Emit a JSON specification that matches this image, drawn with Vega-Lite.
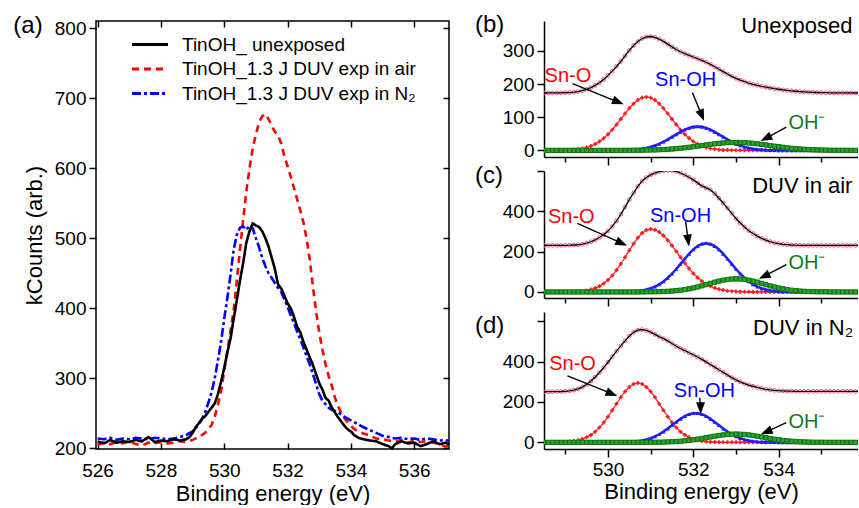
{
"$schema": "https://vega.github.io/schema/vega-lite/v6.json",
"padding": {"left": 12, "top": 12, "right": 0, "bottom": 0},
"background": "white",
"config": {
  "font": "Liberation Sans",
  "view": {"stroke": null},
  "axis": {"grid": false, "domainColor": "black", "tickColor": "black", "labelColor": "black", "titleColor": "black", "labelFontSize": 19, "titleFontSize": 22, "titleFontWeight": "normal", "domainWidth": 1.5, "tickWidth": 1.5, "labelFont": "Liberation Sans", "titleFont": "Liberation Sans", "labelFlush": false}
},
"datasets": {
"a": [
{"s":"a","x":526.0,"y":205},{"s":"a","x":526.2,"y":208},{"s":"a","x":526.4,"y":206},{"s":"a","x":526.6,"y":209},{"s":"a","x":526.8,"y":207},{"s":"a","x":527.0,"y":210},{"s":"a","x":527.2,"y":206},{"s":"a","x":527.4,"y":204},{"s":"a","x":527.6,"y":208},{"s":"a","x":527.8,"y":207},{"s":"a","x":528.0,"y":209},{"s":"a","x":528.2,"y":207},{"s":"a","x":528.4,"y":208},{"s":"a","x":528.6,"y":210},{"s":"a","x":528.8,"y":209},{"s":"a","x":529.0,"y":212},{"s":"a","x":529.2,"y":216},{"s":"a","x":529.4,"y":222},{"s":"a","x":529.6,"y":233},{"s":"a","x":529.7,"y":245},{"s":"a","x":529.8,"y":262},{"s":"a","x":529.9,"y":282},{"s":"a","x":530.0,"y":310},{"s":"a","x":530.1,"y":339},{"s":"a","x":530.2,"y":368},{"s":"a","x":530.3,"y":398},{"s":"a","x":530.4,"y":440},{"s":"a","x":530.5,"y":485},{"s":"a","x":530.6,"y":527},{"s":"a","x":530.7,"y":567},{"s":"a","x":530.8,"y":600},{"s":"a","x":530.9,"y":628},{"s":"a","x":531.0,"y":648},{"s":"a","x":531.1,"y":665},{"s":"a","x":531.2,"y":674},{"s":"a","x":531.3,"y":677},{"s":"a","x":531.4,"y":670},{"s":"a","x":531.5,"y":660},{"s":"a","x":531.6,"y":652},{"s":"a","x":531.7,"y":647},{"s":"a","x":531.8,"y":635},{"s":"a","x":531.9,"y":617},{"s":"a","x":532.0,"y":603},{"s":"a","x":532.1,"y":588},{"s":"a","x":532.2,"y":572},{"s":"a","x":532.3,"y":556},{"s":"a","x":532.4,"y":540},{"s":"a","x":532.5,"y":523},{"s":"a","x":532.6,"y":500},{"s":"a","x":532.7,"y":470},{"s":"a","x":532.8,"y":432},{"s":"a","x":532.9,"y":396},{"s":"a","x":533.0,"y":366},{"s":"a","x":533.1,"y":341},{"s":"a","x":533.2,"y":320},{"s":"a","x":533.3,"y":303},{"s":"a","x":533.4,"y":289},{"s":"a","x":533.5,"y":272},{"s":"a","x":533.6,"y":260},{"s":"a","x":533.7,"y":250},{"s":"a","x":533.8,"y":243},{"s":"a","x":533.9,"y":237},{"s":"a","x":534.0,"y":232},{"s":"a","x":534.1,"y":228},{"s":"a","x":534.2,"y":225},{"s":"a","x":534.4,"y":221},{"s":"a","x":534.6,"y":218},{"s":"a","x":534.8,"y":214},{"s":"a","x":535.0,"y":213},{"s":"a","x":535.2,"y":211},{"s":"a","x":535.4,"y":209},{"s":"a","x":535.6,"y":212},{"s":"a","x":535.8,"y":208},{"s":"a","x":536.0,"y":211},{"s":"a","x":536.2,"y":209},{"s":"a","x":536.4,"y":210},{"s":"a","x":536.6,"y":208},{"s":"a","x":536.8,"y":206},{"s":"a","x":537.0,"y":202},{"s":"a","x":537.1,"y":204},
{"s":"n","x":526.0,"y":214},{"s":"n","x":526.2,"y":213},{"s":"n","x":526.4,"y":215},{"s":"n","x":526.6,"y":212},{"s":"n","x":526.8,"y":214},{"s":"n","x":527.0,"y":213},{"s":"n","x":527.2,"y":215},{"s":"n","x":527.4,"y":214},{"s":"n","x":527.6,"y":213},{"s":"n","x":527.8,"y":215},{"s":"n","x":528.0,"y":214},{"s":"n","x":528.2,"y":213},{"s":"n","x":528.4,"y":214},{"s":"n","x":528.6,"y":216},{"s":"n","x":528.8,"y":219},{"s":"n","x":529.0,"y":224},{"s":"n","x":529.1,"y":229},{"s":"n","x":529.2,"y":235},{"s":"n","x":529.3,"y":242},{"s":"n","x":529.4,"y":252},{"s":"n","x":529.5,"y":265},{"s":"n","x":529.6,"y":280},{"s":"n","x":529.7,"y":300},{"s":"n","x":529.8,"y":325},{"s":"n","x":529.9,"y":352},{"s":"n","x":530.0,"y":385},{"s":"n","x":530.1,"y":415},{"s":"n","x":530.2,"y":448},{"s":"n","x":530.3,"y":484},{"s":"n","x":530.4,"y":505},{"s":"n","x":530.5,"y":515},{"s":"n","x":530.6,"y":517},{"s":"n","x":530.7,"y":512},{"s":"n","x":530.8,"y":518},{"s":"n","x":530.9,"y":514},{"s":"n","x":531.0,"y":500},{"s":"n","x":531.1,"y":487},{"s":"n","x":531.2,"y":472},{"s":"n","x":531.3,"y":460},{"s":"n","x":531.4,"y":450},{"s":"n","x":531.5,"y":443},{"s":"n","x":531.6,"y":436},{"s":"n","x":531.7,"y":429},{"s":"n","x":531.8,"y":423},{"s":"n","x":531.9,"y":413},{"s":"n","x":532.0,"y":402},{"s":"n","x":532.1,"y":390},{"s":"n","x":532.2,"y":379},{"s":"n","x":532.3,"y":367},{"s":"n","x":532.4,"y":356},{"s":"n","x":532.5,"y":344},{"s":"n","x":532.6,"y":332},{"s":"n","x":532.7,"y":320},{"s":"n","x":532.8,"y":306},{"s":"n","x":532.9,"y":292},{"s":"n","x":533.0,"y":278},{"s":"n","x":533.1,"y":268},{"s":"n","x":533.2,"y":263},{"s":"n","x":533.3,"y":258},{"s":"n","x":533.4,"y":255},{"s":"n","x":533.6,"y":251},{"s":"n","x":533.8,"y":245},{"s":"n","x":534.0,"y":240},{"s":"n","x":534.2,"y":235},{"s":"n","x":534.4,"y":230},{"s":"n","x":534.6,"y":226},{"s":"n","x":534.8,"y":222},{"s":"n","x":535.0,"y":218},{"s":"n","x":535.2,"y":216},{"s":"n","x":535.4,"y":214},{"s":"n","x":535.6,"y":215},{"s":"n","x":535.8,"y":213},{"s":"n","x":536.0,"y":214},{"s":"n","x":536.2,"y":212},{"s":"n","x":536.4,"y":214},{"s":"n","x":536.6,"y":213},{"s":"n","x":536.8,"y":211},{"s":"n","x":537.0,"y":212},{"s":"n","x":537.1,"y":210},
{"s":"u","x":526.0,"y":210},{"s":"u","x":526.2,"y":207},{"s":"u","x":526.4,"y":212},{"s":"u","x":526.6,"y":208},{"s":"u","x":526.8,"y":210},{"s":"u","x":527.0,"y":209},{"s":"u","x":527.2,"y":212},{"s":"u","x":527.4,"y":210},{"s":"u","x":527.6,"y":216},{"s":"u","x":527.7,"y":213},{"s":"u","x":527.8,"y":209},{"s":"u","x":528.0,"y":211},{"s":"u","x":528.2,"y":210},{"s":"u","x":528.4,"y":213},{"s":"u","x":528.6,"y":211},{"s":"u","x":528.8,"y":213},{"s":"u","x":528.9,"y":216},{"s":"u","x":529.0,"y":222},{"s":"u","x":529.1,"y":230},{"s":"u","x":529.2,"y":236},{"s":"u","x":529.3,"y":242},{"s":"u","x":529.4,"y":246},{"s":"u","x":529.5,"y":252},{"s":"u","x":529.6,"y":258},{"s":"u","x":529.7,"y":264},{"s":"u","x":529.8,"y":277},{"s":"u","x":529.9,"y":295},{"s":"u","x":530.0,"y":315},{"s":"u","x":530.1,"y":337},{"s":"u","x":530.2,"y":357},{"s":"u","x":530.3,"y":385},{"s":"u","x":530.4,"y":412},{"s":"u","x":530.5,"y":440},{"s":"u","x":530.6,"y":465},{"s":"u","x":530.7,"y":494},{"s":"u","x":530.8,"y":510},{"s":"u","x":530.9,"y":521},{"s":"u","x":531.0,"y":518},{"s":"u","x":531.1,"y":516},{"s":"u","x":531.2,"y":510},{"s":"u","x":531.3,"y":500},{"s":"u","x":531.4,"y":488},{"s":"u","x":531.5,"y":472},{"s":"u","x":531.6,"y":456},{"s":"u","x":531.7,"y":434},{"s":"u","x":531.8,"y":428},{"s":"u","x":531.9,"y":418},{"s":"u","x":532.0,"y":407},{"s":"u","x":532.1,"y":400},{"s":"u","x":532.2,"y":388},{"s":"u","x":532.3,"y":374},{"s":"u","x":532.4,"y":366},{"s":"u","x":532.5,"y":352},{"s":"u","x":532.6,"y":341},{"s":"u","x":532.7,"y":330},{"s":"u","x":532.8,"y":319},{"s":"u","x":532.9,"y":306},{"s":"u","x":533.0,"y":293},{"s":"u","x":533.1,"y":284},{"s":"u","x":533.2,"y":272},{"s":"u","x":533.3,"y":268},{"s":"u","x":533.4,"y":258},{"s":"u","x":533.5,"y":251},{"s":"u","x":533.6,"y":244},{"s":"u","x":533.7,"y":238},{"s":"u","x":533.8,"y":232},{"s":"u","x":533.9,"y":227},{"s":"u","x":534.0,"y":224},{"s":"u","x":534.1,"y":219},{"s":"u","x":534.2,"y":216},{"s":"u","x":534.3,"y":214},{"s":"u","x":534.4,"y":213},{"s":"u","x":534.6,"y":211},{"s":"u","x":534.8,"y":210},{"s":"u","x":535.0,"y":206},{"s":"u","x":535.2,"y":203},{"s":"u","x":535.3,"y":200},{"s":"u","x":535.4,"y":206},{"s":"u","x":535.6,"y":210},{"s":"u","x":535.8,"y":207},{"s":"u","x":536.0,"y":208},{"s":"u","x":536.2,"y":203},{"s":"u","x":536.4,"y":206},{"s":"u","x":536.6,"y":210},{"s":"u","x":536.8,"y":206},{"s":"u","x":537.0,"y":208},{"s":"u","x":537.1,"y":205}
],
"bO": [{"x":528.5,"y":0},{"x":528.6,"y":0.1},{"x":528.7,"y":0.1},{"x":528.8,"y":0.2},{"x":528.9,"y":0.4},{"x":529.0,"y":0.8},{"x":529.1,"y":1.3},{"x":529.2,"y":2.2},{"x":529.3,"y":3.6},{"x":529.4,"y":5.7},{"x":529.5,"y":8.7},{"x":529.6,"y":13},{"x":529.7,"y":18.9},{"x":529.8,"y":26.6},{"x":529.9,"y":36.5},{"x":530.0,"y":48.3},{"x":530.1,"y":62.2},{"x":530.2,"y":77.7},{"x":530.3,"y":94.3},{"x":530.4,"y":111},{"x":530.5,"y":126.9},{"x":530.6,"y":140.9},{"x":530.7,"y":151.7},{"x":530.8,"y":158.6},{"x":530.9,"y":161},{"x":531.0,"y":158.6},{"x":531.1,"y":151.7},{"x":531.2,"y":140.9},{"x":531.3,"y":126.9},{"x":531.4,"y":111},{"x":531.5,"y":94.3},{"x":531.6,"y":77.7},{"x":531.7,"y":62.2},{"x":531.8,"y":48.3},{"x":531.9,"y":36.5},{"x":532.0,"y":26.6},{"x":532.1,"y":18.9},{"x":532.2,"y":13},{"x":532.3,"y":8.7},{"x":532.4,"y":5.7},{"x":532.5,"y":3.6},{"x":532.6,"y":2.2},{"x":532.7,"y":1.3},{"x":532.8,"y":0.8},{"x":532.9,"y":0.4},{"x":533.0,"y":0.2},{"x":533.1,"y":0.1},{"x":533.2,"y":0.1},{"x":533.3,"y":0},{"x":533.4,"y":0},{"x":533.5,"y":0},{"x":533.6,"y":0},{"x":533.7,"y":0},{"x":533.8,"y":0},{"x":533.9,"y":0},{"x":534.0,"y":0},{"x":534.1,"y":0},{"x":534.2,"y":0},{"x":534.3,"y":0},{"x":534.4,"y":0},{"x":534.5,"y":0},{"x":534.6,"y":0},{"x":534.7,"y":0},{"x":534.8,"y":0},{"x":534.9,"y":0},{"x":535.0,"y":0},{"x":535.1,"y":0},{"x":535.2,"y":0},{"x":535.3,"y":0},{"x":535.4,"y":0},{"x":535.5,"y":0},{"x":535.6,"y":0},{"x":535.7,"y":0},{"x":535.8,"y":0},{"x":535.9,"y":0}],
"bH": [{"x":528.5,"y":0},{"x":528.6,"y":0},{"x":528.7,"y":0},{"x":528.8,"y":0},{"x":528.9,"y":0},{"x":529.0,"y":0},{"x":529.1,"y":0},{"x":529.2,"y":0},{"x":529.3,"y":0},{"x":529.4,"y":0},{"x":529.5,"y":0},{"x":529.6,"y":0},{"x":529.7,"y":0},{"x":529.8,"y":0},{"x":529.9,"y":0},{"x":530.0,"y":0},{"x":530.1,"y":0.1},{"x":530.2,"y":0.2},{"x":530.3,"y":0.4},{"x":530.4,"y":0.7},{"x":530.5,"y":1.2},{"x":530.6,"y":2},{"x":530.7,"y":3.2},{"x":530.8,"y":4.9},{"x":530.9,"y":7.3},{"x":531.0,"y":10.5},{"x":531.1,"y":14.6},{"x":531.2,"y":19.8},{"x":531.3,"y":26},{"x":531.4,"y":33},{"x":531.5,"y":40.6},{"x":531.6,"y":48.3},{"x":531.7,"y":55.8},{"x":531.8,"y":62.4},{"x":531.9,"y":67.5},{"x":532.0,"y":70.9},{"x":532.1,"y":72},{"x":532.2,"y":70.9},{"x":532.3,"y":67.5},{"x":532.4,"y":62.4},{"x":532.5,"y":55.8},{"x":532.6,"y":48.3},{"x":532.7,"y":40.6},{"x":532.8,"y":33},{"x":532.9,"y":26},{"x":533.0,"y":19.8},{"x":533.1,"y":14.6},{"x":533.2,"y":10.5},{"x":533.3,"y":7.3},{"x":533.4,"y":4.9},{"x":533.5,"y":3.2},{"x":533.6,"y":2},{"x":533.7,"y":1.2},{"x":533.8,"y":0.7},{"x":533.9,"y":0.4},{"x":534.0,"y":0.2},{"x":534.1,"y":0.1},{"x":534.2,"y":0},{"x":534.3,"y":0},{"x":534.4,"y":0},{"x":534.5,"y":0},{"x":534.6,"y":0},{"x":534.7,"y":0},{"x":534.8,"y":0},{"x":534.9,"y":0},{"x":535.0,"y":0},{"x":535.1,"y":0},{"x":535.2,"y":0},{"x":535.3,"y":0},{"x":535.4,"y":0},{"x":535.5,"y":0},{"x":535.6,"y":0},{"x":535.7,"y":0},{"x":535.8,"y":0},{"x":535.9,"y":0}],
"bM": [{"x":528.5,"y":0},{"x":528.6,"y":0},{"x":528.7,"y":0},{"x":528.8,"y":0},{"x":528.9,"y":0},{"x":529.0,"y":0},{"x":529.1,"y":0},{"x":529.2,"y":0},{"x":529.3,"y":0},{"x":529.4,"y":0},{"x":529.5,"y":0},{"x":529.6,"y":0},{"x":529.7,"y":0},{"x":529.8,"y":0},{"x":529.9,"y":0},{"x":530.0,"y":0},{"x":530.1,"y":0},{"x":530.2,"y":0},{"x":530.3,"y":0.1},{"x":530.4,"y":0.1},{"x":530.5,"y":0.2},{"x":530.6,"y":0.3},{"x":530.7,"y":0.4},{"x":530.8,"y":0.5},{"x":530.9,"y":0.8},{"x":531.0,"y":1.1},{"x":531.1,"y":1.4},{"x":531.2,"y":1.9},{"x":531.3,"y":2.5},{"x":531.4,"y":3.2},{"x":531.5,"y":4.1},{"x":531.6,"y":5.2},{"x":531.7,"y":6.4},{"x":531.8,"y":7.8},{"x":531.9,"y":9.3},{"x":532.0,"y":11},{"x":532.1,"y":12.7},{"x":532.2,"y":14.6},{"x":532.3,"y":16.4},{"x":532.4,"y":18.1},{"x":532.5,"y":19.8},{"x":532.6,"y":21.2},{"x":532.7,"y":22.4},{"x":532.8,"y":23.3},{"x":532.9,"y":23.8},{"x":533.0,"y":24},{"x":533.1,"y":23.8},{"x":533.2,"y":23.3},{"x":533.3,"y":22.4},{"x":533.4,"y":21.2},{"x":533.5,"y":19.8},{"x":533.6,"y":18.1},{"x":533.7,"y":16.4},{"x":533.8,"y":14.6},{"x":533.9,"y":12.7},{"x":534.0,"y":11},{"x":534.1,"y":9.3},{"x":534.2,"y":7.8},{"x":534.3,"y":6.4},{"x":534.4,"y":5.2},{"x":534.5,"y":4.1},{"x":534.6,"y":3.2},{"x":534.7,"y":2.5},{"x":534.8,"y":1.9},{"x":534.9,"y":1.4},{"x":535.0,"y":1.1},{"x":535.1,"y":0.8},{"x":535.2,"y":0.5},{"x":535.3,"y":0.4},{"x":535.4,"y":0.3},{"x":535.5,"y":0.2},{"x":535.6,"y":0.1},{"x":535.7,"y":0.1},{"x":535.8,"y":0},{"x":535.9,"y":0}],
"bE": [{"x":528.5,"y":173},{"x":528.6,"y":173.1},{"x":528.7,"y":173.1},{"x":528.8,"y":173.2},{"x":528.9,"y":173.4},{"x":529.0,"y":173.8},{"x":529.1,"y":174.4},{"x":529.2,"y":175.5},{"x":529.3,"y":177.3},{"x":529.4,"y":180},{"x":529.5,"y":184},{"x":529.6,"y":189},{"x":529.7,"y":196},{"x":529.8,"y":204},{"x":529.9,"y":214},{"x":530.0,"y":226},{"x":530.1,"y":239},{"x":530.2,"y":253},{"x":530.3,"y":268},{"x":530.4,"y":284.8},{"x":530.5,"y":301.3},{"x":530.6,"y":316.2},{"x":530.7,"y":328.3},{"x":530.8,"y":337},{"x":530.9,"y":342.1},{"x":531.0,"y":343.2},{"x":531.1,"y":340.7},{"x":531.2,"y":335.6},{"x":531.3,"y":328.4},{"x":531.4,"y":320.2},{"x":531.5,"y":312},{"x":531.6,"y":304.2},{"x":531.7,"y":297.4},{"x":531.8,"y":291.5},{"x":531.9,"y":286.3},{"x":532.0,"y":281.5},{"x":532.1,"y":276.6},{"x":532.2,"y":271.5},{"x":532.3,"y":265.6},{"x":532.4,"y":259.2},{"x":532.5,"y":252.2},{"x":532.6,"y":244.7},{"x":532.7,"y":237.3},{"x":532.8,"y":230.1},{"x":532.9,"y":223.2},{"x":533.0,"y":217},{"x":533.1,"y":211.5},{"x":533.2,"y":206.9},{"x":533.3,"y":202.7},{"x":533.4,"y":199.1},{"x":533.5,"y":196},{"x":533.6,"y":193.1},{"x":533.7,"y":190.6},{"x":533.8,"y":188.3},{"x":533.9,"y":186.1},{"x":534.0,"y":184.2},{"x":534.1,"y":182.4},{"x":534.2,"y":180.8},{"x":534.3,"y":179.4},{"x":534.4,"y":178.2},{"x":534.5,"y":177.1},{"x":534.6,"y":176.2},{"x":534.7,"y":175.5},{"x":534.8,"y":174.9},{"x":534.9,"y":174.4},{"x":535.0,"y":174.1},{"x":535.1,"y":173.8},{"x":535.2,"y":173.5},{"x":535.3,"y":173.4},{"x":535.4,"y":173.3},{"x":535.5,"y":173.2},{"x":535.6,"y":173.1},{"x":535.7,"y":173.1},{"x":535.8,"y":173},{"x":535.9,"y":173}],
"cO": [{"x":528.5,"y":0},{"x":528.6,"y":0},{"x":528.7,"y":0},{"x":528.8,"y":0.1},{"x":528.9,"y":0.2},{"x":529.0,"y":0.4},{"x":529.1,"y":0.8},{"x":529.2,"y":1.5},{"x":529.3,"y":2.6},{"x":529.4,"y":4.5},{"x":529.5,"y":7.6},{"x":529.6,"y":12.2},{"x":529.7,"y":19.1},{"x":529.8,"y":28.9},{"x":529.9,"y":42.2},{"x":530.0,"y":59.7},{"x":530.1,"y":81.8},{"x":530.2,"y":108.3},{"x":530.3,"y":138.8},{"x":530.4,"y":172.1},{"x":530.5,"y":206.4},{"x":530.6,"y":239.6},{"x":530.7,"y":268.9},{"x":530.8,"y":292},{"x":530.9,"y":306.9},{"x":531.0,"y":312},{"x":531.1,"y":308.3},{"x":531.2,"y":297},{"x":531.3,"y":279.6},{"x":531.4,"y":256.8},{"x":531.5,"y":229.9},{"x":531.6,"y":200.9},{"x":531.7,"y":171.6},{"x":531.8,"y":142.9},{"x":531.9,"y":116.1},{"x":532.0,"y":92},{"x":532.1,"y":71.1},{"x":532.2,"y":53.7},{"x":532.3,"y":39.6},{"x":532.4,"y":28.5},{"x":532.5,"y":20},{"x":532.6,"y":13.7},{"x":532.7,"y":9.2},{"x":532.8,"y":6},{"x":532.9,"y":3.8},{"x":533.0,"y":2.4},{"x":533.1,"y":1.4},{"x":533.2,"y":0.8},{"x":533.3,"y":0.5},{"x":533.4,"y":0.3},{"x":533.5,"y":0.1},{"x":533.6,"y":0},{"x":533.7,"y":0},{"x":533.8,"y":0},{"x":533.9,"y":0},{"x":534.0,"y":0},{"x":534.1,"y":0},{"x":534.2,"y":0},{"x":534.3,"y":0},{"x":534.4,"y":0},{"x":534.5,"y":0},{"x":534.6,"y":0},{"x":534.7,"y":0},{"x":534.8,"y":0},{"x":534.9,"y":0},{"x":535.0,"y":0},{"x":535.1,"y":0},{"x":535.2,"y":0},{"x":535.3,"y":0},{"x":535.4,"y":0},{"x":535.5,"y":0},{"x":535.6,"y":0},{"x":535.7,"y":0},{"x":535.8,"y":0},{"x":535.9,"y":0}],
"cH": [{"x":528.5,"y":0},{"x":528.6,"y":0},{"x":528.7,"y":0},{"x":528.8,"y":0},{"x":528.9,"y":0},{"x":529.0,"y":0},{"x":529.1,"y":0},{"x":529.2,"y":0},{"x":529.3,"y":0},{"x":529.4,"y":0},{"x":529.5,"y":0},{"x":529.6,"y":0},{"x":529.7,"y":0},{"x":529.8,"y":0},{"x":529.9,"y":0},{"x":530.0,"y":0},{"x":530.1,"y":0.1},{"x":530.2,"y":0.3},{"x":530.3,"y":0.5},{"x":530.4,"y":0.9},{"x":530.5,"y":1.6},{"x":530.6,"y":2.8},{"x":530.7,"y":4.7},{"x":530.8,"y":7.6},{"x":530.9,"y":11.9},{"x":531.0,"y":18},{"x":531.1,"y":26.4},{"x":531.2,"y":37.6},{"x":531.3,"y":51.9},{"x":531.4,"y":69.6},{"x":531.5,"y":90.4},{"x":531.6,"y":113.8},{"x":531.7,"y":139.1},{"x":531.8,"y":164.7},{"x":531.9,"y":189.2},{"x":532.0,"y":210.7},{"x":532.1,"y":227.6},{"x":532.2,"y":238.3},{"x":532.3,"y":242},{"x":532.4,"y":238.3},{"x":532.5,"y":227.6},{"x":532.6,"y":210.7},{"x":532.7,"y":189.2},{"x":532.8,"y":164.7},{"x":532.9,"y":139.1},{"x":533.0,"y":113.8},{"x":533.1,"y":90.4},{"x":533.2,"y":69.6},{"x":533.3,"y":51.9},{"x":533.4,"y":37.6},{"x":533.5,"y":26.4},{"x":533.6,"y":18},{"x":533.7,"y":11.9},{"x":533.8,"y":7.6},{"x":533.9,"y":4.7},{"x":534.0,"y":2.8},{"x":534.1,"y":1.6},{"x":534.2,"y":0.9},{"x":534.3,"y":0.5},{"x":534.4,"y":0.3},{"x":534.5,"y":0.1},{"x":534.6,"y":0},{"x":534.7,"y":0},{"x":534.8,"y":0},{"x":534.9,"y":0},{"x":535.0,"y":0},{"x":535.1,"y":0},{"x":535.2,"y":0},{"x":535.3,"y":0},{"x":535.4,"y":0},{"x":535.5,"y":0},{"x":535.6,"y":0},{"x":535.7,"y":0},{"x":535.8,"y":0},{"x":535.9,"y":0}],
"cM": [{"x":528.5,"y":0},{"x":528.6,"y":0},{"x":528.7,"y":0},{"x":528.8,"y":0},{"x":528.9,"y":0},{"x":529.0,"y":0},{"x":529.1,"y":0},{"x":529.2,"y":0},{"x":529.3,"y":0},{"x":529.4,"y":0},{"x":529.5,"y":0},{"x":529.6,"y":0},{"x":529.7,"y":0},{"x":529.8,"y":0},{"x":529.9,"y":0},{"x":530.0,"y":0},{"x":530.1,"y":0},{"x":530.2,"y":0},{"x":530.3,"y":0},{"x":530.4,"y":0},{"x":530.5,"y":0},{"x":530.6,"y":0.1},{"x":530.7,"y":0.1},{"x":530.8,"y":0.2},{"x":530.9,"y":0.4},{"x":531.0,"y":0.6},{"x":531.1,"y":0.9},{"x":531.2,"y":1.4},{"x":531.3,"y":2.1},{"x":531.4,"y":3.1},{"x":531.5,"y":4.5},{"x":531.6,"y":6.4},{"x":531.7,"y":8.8},{"x":531.8,"y":11.8},{"x":531.9,"y":15.5},{"x":532.0,"y":19.9},{"x":532.1,"y":24.9},{"x":532.2,"y":30.5},{"x":532.3,"y":36.4},{"x":532.4,"y":42.4},{"x":532.5,"y":48.4},{"x":532.6,"y":53.8},{"x":532.7,"y":58.4},{"x":532.8,"y":62},{"x":532.9,"y":64.2},{"x":533.0,"y":65},{"x":533.1,"y":64.2},{"x":533.2,"y":62},{"x":533.3,"y":58.4},{"x":533.4,"y":53.8},{"x":533.5,"y":48.4},{"x":533.6,"y":42.4},{"x":533.7,"y":36.4},{"x":533.8,"y":30.5},{"x":533.9,"y":24.9},{"x":534.0,"y":19.9},{"x":534.1,"y":15.5},{"x":534.2,"y":11.8},{"x":534.3,"y":8.8},{"x":534.4,"y":6.4},{"x":534.5,"y":4.5},{"x":534.6,"y":3.1},{"x":534.7,"y":2.1},{"x":534.8,"y":1.4},{"x":534.9,"y":0.9},{"x":535.0,"y":0.6},{"x":535.1,"y":0.4},{"x":535.2,"y":0.2},{"x":535.3,"y":0.1},{"x":535.4,"y":0.1},{"x":535.5,"y":0},{"x":535.6,"y":0},{"x":535.7,"y":0},{"x":535.8,"y":0},{"x":535.9,"y":0}],
"cE": [{"x":528.5,"y":231},{"x":528.6,"y":231},{"x":528.7,"y":231},{"x":528.8,"y":231},{"x":528.9,"y":231},{"x":529.0,"y":231.5},{"x":529.1,"y":232},{"x":529.2,"y":233},{"x":529.3,"y":234},{"x":529.4,"y":237},{"x":529.5,"y":242},{"x":529.6,"y":249},{"x":529.7,"y":258},{"x":529.8,"y":270},{"x":529.9,"y":285},{"x":530.0,"y":302},{"x":530.1,"y":325},{"x":530.2,"y":352},{"x":530.3,"y":385},{"x":530.4,"y":421},{"x":530.5,"y":458},{"x":530.6,"y":492},{"x":530.7,"y":524},{"x":530.8,"y":550},{"x":530.9,"y":568},{"x":531.0,"y":581},{"x":531.1,"y":590},{"x":531.2,"y":597},{"x":531.3,"y":601},{"x":531.4,"y":603},{"x":531.5,"y":602},{"x":531.6,"y":598},{"x":531.7,"y":590},{"x":531.8,"y":580},{"x":531.9,"y":569},{"x":532.0,"y":556},{"x":532.1,"y":541},{"x":532.2,"y":526},{"x":532.3,"y":516},{"x":532.4,"y":507},{"x":532.5,"y":488},{"x":532.6,"y":465},{"x":532.7,"y":441},{"x":532.8,"y":416},{"x":532.9,"y":390},{"x":533.0,"y":364},{"x":533.1,"y":342},{"x":533.2,"y":322},{"x":533.3,"y":304},{"x":533.4,"y":290},{"x":533.5,"y":277},{"x":533.6,"y":266},{"x":533.7,"y":257},{"x":533.8,"y":250},{"x":533.9,"y":244},{"x":534.0,"y":240},{"x":534.1,"y":236.5},{"x":534.2,"y":234.5},{"x":534.3,"y":233},{"x":534.4,"y":232},{"x":534.5,"y":231.5},{"x":534.6,"y":231},{"x":534.7,"y":231},{"x":534.8,"y":231},{"x":534.9,"y":231},{"x":535.0,"y":231},{"x":535.1,"y":231},{"x":535.2,"y":231},{"x":535.3,"y":231},{"x":535.4,"y":231},{"x":535.5,"y":231},{"x":535.6,"y":231},{"x":535.7,"y":231},{"x":535.8,"y":231},{"x":535.9,"y":231}],
"dO": [{"x":528.5,"y":0},{"x":528.6,"y":0.1},{"x":528.7,"y":0.3},{"x":528.8,"y":0.6},{"x":528.9,"y":1.1},{"x":529.0,"y":2.1},{"x":529.1,"y":3.6},{"x":529.2,"y":6.2},{"x":529.3,"y":10.2},{"x":529.4,"y":16.2},{"x":529.5,"y":24.9},{"x":529.6,"y":36.9},{"x":529.7,"y":52.9},{"x":529.8,"y":73.3},{"x":529.9,"y":98.1},{"x":530.0,"y":126.9},{"x":530.1,"y":158.6},{"x":530.2,"y":191.5},{"x":530.3,"y":223.4},{"x":530.4,"y":252},{"x":530.5,"y":274.5},{"x":530.6,"y":289},{"x":530.7,"y":294},{"x":530.8,"y":289},{"x":530.9,"y":274.5},{"x":531.0,"y":252},{"x":531.1,"y":223.4},{"x":531.2,"y":191.5},{"x":531.3,"y":158.6},{"x":531.4,"y":126.9},{"x":531.5,"y":98.1},{"x":531.6,"y":73.3},{"x":531.7,"y":52.9},{"x":531.8,"y":36.9},{"x":531.9,"y":24.9},{"x":532.0,"y":16.2},{"x":532.1,"y":10.2},{"x":532.2,"y":6.2},{"x":532.3,"y":3.6},{"x":532.4,"y":2.1},{"x":532.5,"y":1.1},{"x":532.6,"y":0.6},{"x":532.7,"y":0.3},{"x":532.8,"y":0.1},{"x":532.9,"y":0},{"x":533.0,"y":0},{"x":533.1,"y":0},{"x":533.2,"y":0},{"x":533.3,"y":0},{"x":533.4,"y":0},{"x":533.5,"y":0},{"x":533.6,"y":0},{"x":533.7,"y":0},{"x":533.8,"y":0},{"x":533.9,"y":0},{"x":534.0,"y":0},{"x":534.1,"y":0},{"x":534.2,"y":0},{"x":534.3,"y":0},{"x":534.4,"y":0},{"x":534.5,"y":0},{"x":534.6,"y":0},{"x":534.7,"y":0},{"x":534.8,"y":0},{"x":534.9,"y":0},{"x":535.0,"y":0},{"x":535.1,"y":0},{"x":535.2,"y":0},{"x":535.3,"y":0},{"x":535.4,"y":0},{"x":535.5,"y":0},{"x":535.6,"y":0},{"x":535.7,"y":0},{"x":535.8,"y":0},{"x":535.9,"y":0}],
"dH": [{"x":528.5,"y":0},{"x":528.6,"y":0},{"x":528.7,"y":0},{"x":528.8,"y":0},{"x":528.9,"y":0},{"x":529.0,"y":0},{"x":529.1,"y":0},{"x":529.2,"y":0},{"x":529.3,"y":0},{"x":529.4,"y":0},{"x":529.5,"y":0},{"x":529.6,"y":0},{"x":529.7,"y":0},{"x":529.8,"y":0},{"x":529.9,"y":0},{"x":530.0,"y":0.1},{"x":530.1,"y":0.2},{"x":530.2,"y":0.3},{"x":530.3,"y":0.6},{"x":530.4,"y":1.1},{"x":530.5,"y":2},{"x":530.6,"y":3.4},{"x":530.7,"y":5.7},{"x":530.8,"y":9},{"x":530.9,"y":13.8},{"x":531.0,"y":20.4},{"x":531.1,"y":29.1},{"x":531.2,"y":40.1},{"x":531.3,"y":53.3},{"x":531.4,"y":68.4},{"x":531.5,"y":84.6},{"x":531.6,"y":101.1},{"x":531.7,"y":116.6},{"x":531.8,"y":129.7},{"x":531.9,"y":139.3},{"x":532.0,"y":144.4},{"x":532.1,"y":144.4},{"x":532.2,"y":139.3},{"x":532.3,"y":129.7},{"x":532.4,"y":116.6},{"x":532.5,"y":101.1},{"x":532.6,"y":84.6},{"x":532.7,"y":68.4},{"x":532.8,"y":53.3},{"x":532.9,"y":40.1},{"x":533.0,"y":29.1},{"x":533.1,"y":20.4},{"x":533.2,"y":13.8},{"x":533.3,"y":9},{"x":533.4,"y":5.7},{"x":533.5,"y":3.4},{"x":533.6,"y":2},{"x":533.7,"y":1.1},{"x":533.8,"y":0.6},{"x":533.9,"y":0.3},{"x":534.0,"y":0.2},{"x":534.1,"y":0.1},{"x":534.2,"y":0},{"x":534.3,"y":0},{"x":534.4,"y":0},{"x":534.5,"y":0},{"x":534.6,"y":0},{"x":534.7,"y":0},{"x":534.8,"y":0},{"x":534.9,"y":0},{"x":535.0,"y":0},{"x":535.1,"y":0},{"x":535.2,"y":0},{"x":535.3,"y":0},{"x":535.4,"y":0},{"x":535.5,"y":0},{"x":535.6,"y":0},{"x":535.7,"y":0},{"x":535.8,"y":0},{"x":535.9,"y":0}],
"dM": [{"x":528.5,"y":0},{"x":528.6,"y":0},{"x":528.7,"y":0},{"x":528.8,"y":0},{"x":528.9,"y":0},{"x":529.0,"y":0},{"x":529.1,"y":0},{"x":529.2,"y":0},{"x":529.3,"y":0},{"x":529.4,"y":0},{"x":529.5,"y":0},{"x":529.6,"y":0},{"x":529.7,"y":0},{"x":529.8,"y":0},{"x":529.9,"y":0},{"x":530.0,"y":0},{"x":530.1,"y":0},{"x":530.2,"y":0},{"x":530.3,"y":0},{"x":530.4,"y":0},{"x":530.5,"y":0},{"x":530.6,"y":0},{"x":530.7,"y":0.1},{"x":530.8,"y":0.1},{"x":530.9,"y":0.2},{"x":531.0,"y":0.4},{"x":531.1,"y":0.6},{"x":531.2,"y":0.9},{"x":531.3,"y":1.3},{"x":531.4,"y":2},{"x":531.5,"y":2.9},{"x":531.6,"y":4},{"x":531.7,"y":5.5},{"x":531.8,"y":7.5},{"x":531.9,"y":9.8},{"x":532.0,"y":12.6},{"x":532.1,"y":15.7},{"x":532.2,"y":19.2},{"x":532.3,"y":23},{"x":532.4,"y":26.8},{"x":532.5,"y":30.5},{"x":532.6,"y":33.9},{"x":532.7,"y":36.9},{"x":532.8,"y":39.1},{"x":532.9,"y":40.5},{"x":533.0,"y":41},{"x":533.1,"y":40.5},{"x":533.2,"y":39.1},{"x":533.3,"y":36.9},{"x":533.4,"y":33.9},{"x":533.5,"y":30.5},{"x":533.6,"y":26.8},{"x":533.7,"y":23},{"x":533.8,"y":19.2},{"x":533.9,"y":15.7},{"x":534.0,"y":12.6},{"x":534.1,"y":9.8},{"x":534.2,"y":7.5},{"x":534.3,"y":5.5},{"x":534.4,"y":4},{"x":534.5,"y":2.9},{"x":534.6,"y":2},{"x":534.7,"y":1.3},{"x":534.8,"y":0.9},{"x":534.9,"y":0.6},{"x":535.0,"y":0.4},{"x":535.1,"y":0.2},{"x":535.2,"y":0.1},{"x":535.3,"y":0.1},{"x":535.4,"y":0},{"x":535.5,"y":0},{"x":535.6,"y":0},{"x":535.7,"y":0},{"x":535.8,"y":0},{"x":535.9,"y":0}],
"dE": [{"x":528.5,"y":251},{"x":528.6,"y":251},{"x":528.7,"y":251},{"x":528.8,"y":251.5},{"x":528.9,"y":252},{"x":529.0,"y":253},{"x":529.1,"y":255},{"x":529.2,"y":259},{"x":529.3,"y":265},{"x":529.4,"y":274},{"x":529.5,"y":287},{"x":529.6,"y":304},{"x":529.7,"y":324},{"x":529.8,"y":346},{"x":529.9,"y":371},{"x":530.0,"y":397},{"x":530.1,"y":425},{"x":530.2,"y":452},{"x":530.3,"y":478},{"x":530.4,"y":503},{"x":530.5,"y":527},{"x":530.6,"y":545},{"x":530.7,"y":556},{"x":530.8,"y":559},{"x":530.9,"y":555},{"x":531.0,"y":546},{"x":531.1,"y":535},{"x":531.2,"y":524},{"x":531.3,"y":514},{"x":531.4,"y":503},{"x":531.5,"y":490},{"x":531.6,"y":476},{"x":531.7,"y":465},{"x":531.8,"y":455},{"x":531.9,"y":444},{"x":532.0,"y":434},{"x":532.1,"y":423},{"x":532.2,"y":411},{"x":532.3,"y":399},{"x":532.4,"y":386},{"x":532.5,"y":373},{"x":532.6,"y":360},{"x":532.7,"y":347},{"x":532.8,"y":334},{"x":532.9,"y":321},{"x":533.0,"y":310},{"x":533.1,"y":300},{"x":533.2,"y":291},{"x":533.3,"y":284},{"x":533.4,"y":278},{"x":533.5,"y":272},{"x":533.6,"y":267},{"x":533.7,"y":263},{"x":533.8,"y":260},{"x":533.9,"y":257.5},{"x":534.0,"y":256},{"x":534.1,"y":255},{"x":534.2,"y":254},{"x":534.3,"y":253.5},{"x":534.4,"y":253},{"x":534.5,"y":253},{"x":534.6,"y":253},{"x":534.7,"y":253},{"x":534.8,"y":253},{"x":534.9,"y":253},{"x":535.0,"y":253},{"x":535.1,"y":253},{"x":535.2,"y":253},{"x":535.3,"y":253},{"x":535.4,"y":253},{"x":535.5,"y":253},{"x":535.6,"y":253},{"x":535.7,"y":253},{"x":535.8,"y":253},{"x":535.9,"y":253}],
"one": [{}]
},
"bounds": "flush",
"spacing": 95,
"hconcat": [
{
  "width": 353, "height": 428,
  "view": {"stroke": "black", "strokeWidth": 1.5},
  "resolve": {"axis": {"x": "independent", "y": "independent"}},
  "layer": [
    {"data": {"name": "a"},
     "mark": {"type": "line", "strokeWidth": 2.6},
     "encoding": {
       "x": {"field": "x", "type": "quantitative", "scale": {"domain": [525.95, 537.1], "nice": false, "zero": false},
             "axis": {"orient": "bottom", "values": [526,528,530,532,534,536], "title": "Binding energy (eV)", "domain": false, "tickSize": -6, "labelPadding": 18, "titlePadding": 3}},
       "y": {"field": "y", "type": "quantitative", "scale": {"domain": [199, 810], "nice": false, "zero": false},
             "axis": {"orient": "left", "values": [200,300,400,500,600,700,800], "title": "kCounts (arb.)", "domain": false, "tickSize": 7, "labelPadding": 3, "titlePadding": 8}},
       "color": {"field": "s", "type": "nominal", "scale": {"domain": ["u","a","n"], "range": ["#000000","#ff0000","#0000ff"]},
                 "legend": {"orient": "none", "legendX": 40.5, "legendY": 10, "title": null, "labelFontSize": 19, "labelColor": "black", "labelLimit": 400, "symbolType": "M-1.5,0H1.5", "symbolSize": 576, "symbolStrokeWidth": 3, "labelOffset": 18.5, "rowPadding": 0.5, "padding": 0,
                            "labelExpr": "datum.label == 'u' ? 'TinOH_ unexposed' : datum.label == 'a' ? 'TinOH_1.3 J DUV exp in air' : 'TinOH_1.3 J DUV exp in N₂'"}},
       "strokeDash": {"field": "s", "type": "nominal", "scale": {"domain": ["u","a","n"], "range": [[1,0],[7,5],[9,3,3,3]]},
                 "legend": {"orient": "none", "legendX": 40.5, "legendY": 10, "title": null, "labelFontSize": 19, "labelColor": "black", "labelLimit": 400, "symbolType": "M-1.5,0H1.5", "symbolSize": 576, "symbolStrokeWidth": 3, "labelOffset": 18.5, "rowPadding": 0.5, "padding": 0,
                            "labelExpr": "datum.label == 'u' ? 'TinOH_ unexposed' : datum.label == 'a' ? 'TinOH_1.3 J DUV exp in air' : 'TinOH_1.3 J DUV exp in N₂'"}}
     }},
    {"data": {"name": "a"},
     "mark": {"type": "point", "opacity": 0},
     "encoding": {
       "x": {"field": "x", "type": "quantitative", "axis": {"orient": "top", "values": [526,528,530,532,534,536], "labels": false, "domain": false, "title": null, "tickSize": -6}},
       "y": {"field": "y", "type": "quantitative", "axis": {"orient": "right", "values": [200,300,400,500,600,700,800], "labels": false, "domain": false, "title": null, "tickSize": -6}}
     }},
    {"data": {"name": "one"},
     "mark": {"type": "text", "text": "(a)", "fontSize": 24, "align": "left", "baseline": "middle", "color": "black"},
     "encoding": {"x": {"datum": 523.34, "axis": null}, "y": {"datum": 803, "axis": null}}}
  ]
},
{
 "bounds": "flush",
 "spacing": 14,
 "vconcat": [
  {
   "width": 314, "height": 136,
   "layer": [
    {"data": {"name": "bO"}, "mark": {"type": "line", "color": "#ff1a1a", "strokeWidth": 1.2, "clip": true, "point": {"shape": "cross", "size": 16, "color": "#ff1a1a"}},
     "encoding": {"x": {"field": "x", "type": "quantitative", "scale": {"domain": [528.5, 535.86], "nice": false, "zero": false},
                        "axis": {"values": [529,530,531,532,533,534,535], "labels": false, "title": null, "tickSize": {"condition": {"test": "datum.value % 2 == 0", "value": 8}, "value": 5}}},
                  "y": {"field": "y", "type": "quantitative", "scale": {"domain": [-20, 390], "nice": false, "zero": false},
                        "axis": {"values": [0,100,200,300], "title": null, "tickSize": 7, "labelPadding": 3}}}},
    {"data": {"name": "bH"}, "mark": {"type": "line", "color": "#1f1fff", "strokeWidth": 2.5, "clip": true, "point": {"shape": "triangle-up", "size": 18, "color": "#1f1fff"}},
     "encoding": {"x": {"field": "x", "type": "quantitative"}, "y": {"field": "y", "type": "quantitative"}}},
    {"data": {"name": "bM"}, "mark": {"type": "line", "color": "#29a329", "strokeWidth": 4.5, "clip": true, "point": {"shape": "square", "size": 18, "filled": false, "color": "#137313", "strokeWidth": 1}},
     "encoding": {"x": {"field": "x", "type": "quantitative"}, "y": {"field": "y", "type": "quantitative"}}},
    {"data": {"name": "bE"}, "mark": {"type": "point", "shape": "circle", "size": 14, "filled": false, "color": "#f05a8c", "strokeWidth": 1, "opacity": 1, "clip": true},
     "encoding": {"x": {"field": "x", "type": "quantitative"}, "y": {"field": "y", "type": "quantitative"}}},
    {"data": {"name": "bE"}, "mark": {"type": "line", "color": "black", "strokeWidth": 1.3, "clip": true},
     "encoding": {"x": {"field": "x", "type": "quantitative"}, "y": {"field": "y", "type": "quantitative"}}},
    {"data": {"name": "one"}, "mark": {"type": "text", "text": "(b)", "fontSize": 24, "align": "left", "baseline": "middle", "color": "black"},
     "encoding": {"x": {"datum": 526.88}, "y": {"datum": 378}}},
    {"data": {"name": "one"}, "mark": {"type": "text", "text": "Unexposed", "fontSize": 22, "align": "right", "baseline": "middle", "color": "black"},
     "encoding": {"x": {"datum": 535.73}, "y": {"datum": 375}}},
    {"data": {"name": "one"}, "mark": {"type": "text", "text": "Sn-O", "fontSize": 20, "align": "center", "baseline": "middle", "color": "#ff0000"},
     "encoding": {"x": {"datum": 529.06}, "y": {"datum": 224}}},
    {"data": {"name": "one"}, "mark": {"type": "text", "text": "Sn-OH", "fontSize": 20, "align": "center", "baseline": "middle", "color": "#0000ff"},
     "encoding": {"x": {"datum": 531.82}, "y": {"datum": 212}}},
    {"data": {"name": "one"}, "mark": {"type": "text", "text": "OH⁻", "fontSize": 20, "align": "left", "baseline": "middle", "color": "#157a15"},
     "encoding": {"x": {"datum": 534.23}, "y": {"datum": 84}}},
    {"data": {"name": "one"}, "mark": {"type": "rule", "color": "black", "strokeWidth": 1.4},
     "encoding": {"x": {"datum": 529.17}, "y": {"datum": 201}, "x2": {"datum": 530.24}, "y2": {"datum": 145.5}}},
    {"data": {"name": "one"}, "mark": {"type": "point", "shape": "M0,-1L0.75,1L-0.75,1Z", "size": 140, "filled": true, "color": "black", "opacity": 1, "angle": 111.8},
     "encoding": {"x": {"datum": 530.24}, "y": {"datum": 145.5}}},
    {"data": {"name": "one"}, "mark": {"type": "rule", "color": "black", "strokeWidth": 1.4},
     "encoding": {"x": {"datum": 531.98}, "y": {"datum": 173.8}, "x2": {"datum": 532.2}, "y2": {"datum": 105.3}}},
    {"data": {"name": "one"}, "mark": {"type": "point", "shape": "M0,-1L0.75,1L-0.75,1Z", "size": 140, "filled": true, "color": "black", "opacity": 1, "angle": 157.7},
     "encoding": {"x": {"datum": 532.2}, "y": {"datum": 105.3}}},
    {"data": {"name": "one"}, "mark": {"type": "rule", "color": "black", "strokeWidth": 1.4},
     "encoding": {"x": {"datum": 534.18}, "y": {"datum": 70.4}, "x2": {"datum": 533.7}, "y2": {"datum": 36.4}}},
    {"data": {"name": "one"}, "mark": {"type": "point", "shape": "M0,-1L0.75,1L-0.75,1Z", "size": 140, "filled": true, "color": "black", "opacity": 1, "angle": 243.7},
     "encoding": {"x": {"datum": 533.7}, "y": {"datum": 36.4}}}
   ]
  },
  {
   "width": 314, "height": 127,
   "layer": [
    {"data": {"name": "cO"}, "mark": {"type": "line", "color": "#ff1a1a", "strokeWidth": 1.2, "clip": true, "point": {"shape": "cross", "size": 16, "color": "#ff1a1a"}},
     "encoding": {"x": {"field": "x", "type": "quantitative", "scale": {"domain": [528.5, 535.86], "nice": false, "zero": false},
                        "axis": {"values": [529,530,531,532,533,534,535], "labels": false, "title": null, "tickSize": {"condition": {"test": "datum.value % 2 == 0", "value": 8}, "value": 5}}},
                  "y": {"field": "y", "type": "quantitative", "scale": {"domain": [-30, 600], "nice": false, "zero": false},
                        "axis": {"values": [0,100,200,300,400,500,600], "title": null, "tickSize": 7, "labelPadding": 3, "labelExpr": "datum.value % 200 == 0 && datum.value < 600 ? datum.label : ''"}}}},
    {"data": {"name": "cH"}, "mark": {"type": "line", "color": "#1f1fff", "strokeWidth": 2.5, "clip": true, "point": {"shape": "triangle-up", "size": 18, "color": "#1f1fff"}},
     "encoding": {"x": {"field": "x", "type": "quantitative"}, "y": {"field": "y", "type": "quantitative"}}},
    {"data": {"name": "cM"}, "mark": {"type": "line", "color": "#29a329", "strokeWidth": 4.5, "clip": true, "point": {"shape": "square", "size": 18, "filled": false, "color": "#137313", "strokeWidth": 1}},
     "encoding": {"x": {"field": "x", "type": "quantitative"}, "y": {"field": "y", "type": "quantitative"}}},
    {"data": {"name": "cE"}, "mark": {"type": "point", "shape": "circle", "size": 14, "filled": false, "color": "#f05a8c", "strokeWidth": 1, "opacity": 1, "clip": true},
     "encoding": {"x": {"field": "x", "type": "quantitative"}, "y": {"field": "y", "type": "quantitative"}}},
    {"data": {"name": "cE"}, "mark": {"type": "line", "color": "black", "strokeWidth": 1.3, "clip": true},
     "encoding": {"x": {"field": "x", "type": "quantitative"}, "y": {"field": "y", "type": "quantitative"}}},
    {"data": {"name": "one"}, "mark": {"type": "text", "text": "(c)", "fontSize": 24, "align": "left", "baseline": "middle", "color": "black"},
     "encoding": {"x": {"datum": 526.88}, "y": {"datum": 575}}},
    {"data": {"name": "one"}, "mark": {"type": "text", "text": "DUV in air", "fontSize": 22, "align": "right", "baseline": "middle", "color": "black"},
     "encoding": {"x": {"datum": 535.73}, "y": {"datum": 526}}},
    {"data": {"name": "one"}, "mark": {"type": "text", "text": "Sn-O", "fontSize": 20, "align": "center", "baseline": "middle", "color": "#ff0000"},
     "encoding": {"x": {"datum": 529.14}, "y": {"datum": 371}}},
    {"data": {"name": "one"}, "mark": {"type": "text", "text": "Sn-OH", "fontSize": 20, "align": "center", "baseline": "middle", "color": "#0000ff"},
     "encoding": {"x": {"datum": 531.7}, "y": {"datum": 378.5}}},
    {"data": {"name": "one"}, "mark": {"type": "text", "text": "OH⁻", "fontSize": 20, "align": "left", "baseline": "middle", "color": "#157a15"},
     "encoding": {"x": {"datum": 534.23}, "y": {"datum": 145}}},
    {"data": {"name": "one"}, "mark": {"type": "rule", "color": "black", "strokeWidth": 1.4},
     "encoding": {"x": {"datum": 529.28}, "y": {"datum": 340.7}, "x2": {"datum": 530.32}, "y2": {"datum": 241.7}}},
    {"data": {"name": "one"}, "mark": {"type": "point", "shape": "M0,-1L0.75,1L-0.75,1Z", "size": 140, "filled": true, "color": "black", "opacity": 1, "angle": 114.3},
     "encoding": {"x": {"datum": 530.32}, "y": {"datum": 241.7}}},
    {"data": {"name": "one"}, "mark": {"type": "rule", "color": "black", "strokeWidth": 1.4},
     "encoding": {"x": {"datum": 531.82}, "y": {"datum": 349}, "x2": {"datum": 531.88}, "y2": {"datum": 255}}},
    {"data": {"name": "one"}, "mark": {"type": "point", "shape": "M0,-1L0.75,1L-0.75,1Z", "size": 140, "filled": true, "color": "black", "opacity": 1, "angle": 172.5},
     "encoding": {"x": {"datum": 531.88}, "y": {"datum": 255}}},
    {"data": {"name": "one"}, "mark": {"type": "rule", "color": "black", "strokeWidth": 1.4},
     "encoding": {"x": {"datum": 534.18}, "y": {"datum": 136}, "x2": {"datum": 533.66}, "y2": {"datum": 78}}},
    {"data": {"name": "one"}, "mark": {"type": "point", "shape": "M0,-1L0.75,1L-0.75,1Z", "size": 140, "filled": true, "color": "black", "opacity": 1, "angle": 244.4},
     "encoding": {"x": {"datum": 533.66}, "y": {"datum": 78}}}
   ]
  },
  {
   "width": 314, "height": 137,
   "layer": [
    {"data": {"name": "dO"}, "mark": {"type": "line", "color": "#ff1a1a", "strokeWidth": 1.2, "clip": true, "point": {"shape": "cross", "size": 16, "color": "#ff1a1a"}},
     "encoding": {"x": {"field": "x", "type": "quantitative", "scale": {"domain": [528.5, 535.86], "nice": false, "zero": false},
                        "axis": {"values": [529,530,531,532,533,534,535], "title": "Binding energy (eV)", "titlePadding": 2, "labelPadding": 3, "labelExpr": "datum.value % 2 == 0 ? datum.label : ''", "tickSize": {"condition": {"test": "datum.value % 2 == 0", "value": 8}, "value": 5}}},
                  "y": {"field": "y", "type": "quantitative", "scale": {"domain": [-33, 646], "nice": false, "zero": false},
                        "axis": {"values": [0,100,200,300,400,500,600], "title": null, "tickSize": 7, "labelPadding": 3, "labelExpr": "datum.value % 200 == 0 && datum.value < 600 ? datum.label : ''"}}}},
    {"data": {"name": "dH"}, "mark": {"type": "line", "color": "#1f1fff", "strokeWidth": 2.5, "clip": true, "point": {"shape": "triangle-up", "size": 18, "color": "#1f1fff"}},
     "encoding": {"x": {"field": "x", "type": "quantitative"}, "y": {"field": "y", "type": "quantitative"}}},
    {"data": {"name": "dM"}, "mark": {"type": "line", "color": "#29a329", "strokeWidth": 4.5, "clip": true, "point": {"shape": "square", "size": 18, "filled": false, "color": "#137313", "strokeWidth": 1}},
     "encoding": {"x": {"field": "x", "type": "quantitative"}, "y": {"field": "y", "type": "quantitative"}}},
    {"data": {"name": "dE"}, "mark": {"type": "point", "shape": "circle", "size": 14, "filled": false, "color": "#f05a8c", "strokeWidth": 1, "opacity": 1, "clip": true},
     "encoding": {"x": {"field": "x", "type": "quantitative"}, "y": {"field": "y", "type": "quantitative"}}},
    {"data": {"name": "dE"}, "mark": {"type": "line", "color": "black", "strokeWidth": 1.3, "clip": true},
     "encoding": {"x": {"field": "x", "type": "quantitative"}, "y": {"field": "y", "type": "quantitative"}}},
    {"data": {"name": "one"}, "mark": {"type": "text", "text": "(d)", "fontSize": 24, "align": "left", "baseline": "middle", "color": "black"},
     "encoding": {"x": {"datum": 526.88}, "y": {"datum": 577}}},
    {"data": {"name": "one"}, "mark": {"type": "text", "text": "DUV in N₂", "fontSize": 22, "align": "right", "baseline": "middle", "color": "black"},
     "encoding": {"x": {"datum": 535.75}, "y": {"datum": 567}}},
    {"data": {"name": "one"}, "mark": {"type": "text", "text": "Sn-O", "fontSize": 20, "align": "center", "baseline": "middle", "color": "#ff0000"},
     "encoding": {"x": {"datum": 529.17}, "y": {"datum": 388}}},
    {"data": {"name": "one"}, "mark": {"type": "text", "text": "Sn-OH", "fontSize": 20, "align": "center", "baseline": "middle", "color": "#0000ff"},
     "encoding": {"x": {"datum": 532.26}, "y": {"datum": 252}}},
    {"data": {"name": "one"}, "mark": {"type": "text", "text": "OH⁻", "fontSize": 20, "align": "left", "baseline": "middle", "color": "#157a15"},
     "encoding": {"x": {"datum": 534.23}, "y": {"datum": 101}}},
    {"data": {"name": "one"}, "mark": {"type": "rule", "color": "black", "strokeWidth": 1.4},
     "encoding": {"x": {"datum": 529.05}, "y": {"datum": 329}, "x2": {"datum": 530.09}, "y2": {"datum": 241}}},
    {"data": {"name": "one"}, "mark": {"type": "point", "shape": "M0,-1L0.75,1L-0.75,1Z", "size": 140, "filled": true, "color": "black", "opacity": 1, "angle": 111.8},
     "encoding": {"x": {"datum": 530.09}, "y": {"datum": 241}}},
    {"data": {"name": "one"}, "mark": {"type": "rule", "color": "black", "strokeWidth": 1.4},
     "encoding": {"x": {"datum": 532.15}, "y": {"datum": 221}, "x2": {"datum": 532.17}, "y2": {"datum": 169}}},
    {"data": {"name": "one"}, "mark": {"type": "point", "shape": "M0,-1L0.75,1L-0.75,1Z", "size": 140, "filled": true, "color": "black", "opacity": 1, "angle": 180},
     "encoding": {"x": {"datum": 532.17}, "y": {"datum": 169}}},
    {"data": {"name": "one"}, "mark": {"type": "rule", "color": "black", "strokeWidth": 1.4},
     "encoding": {"x": {"datum": 534.18}, "y": {"datum": 97.4}, "x2": {"datum": 533.71}, "y2": {"datum": 51.4}}},
    {"data": {"name": "one"}, "mark": {"type": "point", "shape": "M0,-1L0.75,1L-0.75,1Z", "size": 140, "filled": true, "color": "black", "opacity": 1, "angle": 247.7},
     "encoding": {"x": {"datum": 533.71}, "y": {"datum": 51.4}}}
   ]
  }
 ]
}
]
}
